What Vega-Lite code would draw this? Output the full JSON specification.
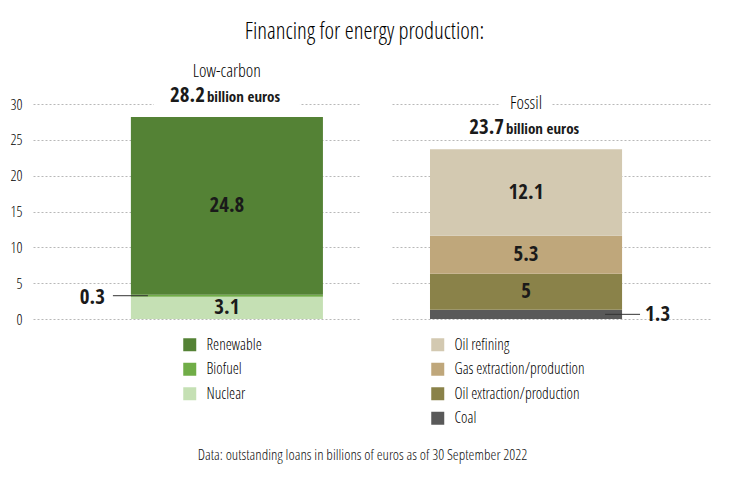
{
  "$schema": "https://vega.github.io/schema/vega-lite/v6.json",
  "background": "white",
  "padding": {"left": 5, "top": 20, "right": 5, "bottom": 5},
  "title": {"text": "Financing for energy production:", "font": "Open Sans Condensed Light", "fontSize": 23, "fontWeight": 300, "color": "#000000", "anchor": "middle", "offset": 19, "dx": 6},
  "datasets": {
    "loans": [
      {"group": "Low-carbon", "category": "Nuclear", "value": 3.1, "order": 1},
      {"group": "Low-carbon", "category": "Biofuel", "value": 0.3, "order": 2},
      {"group": "Low-carbon", "category": "Renewable", "value": 24.8, "order": 3},
      {"group": "Fossil", "category": "Coal", "value": 1.3, "order": 1},
      {"group": "Fossil", "category": "Oil extraction/production", "value": 5, "order": 2},
      {"group": "Fossil", "category": "Gas extraction/production", "value": 5.3, "order": 3},
      {"group": "Fossil", "category": "Oil refining", "value": 12.1, "order": 4}
    ]
  },
  "vconcat": [
    {
      "title": {"text": "Data: outstanding loans in billions of euros as of 30 September 2022", "font": "Open Sans Condensed Light", "orient": "bottom", "fontSize": 15, "fontWeight": 300, "color": "#111111", "offset": 21, "anchor": "middle", "dx": 4},
      "bounds": "flush",
      "spacing": 31,
      "resolve": {"scale": {"color": "independent", "x": "independent", "y": "independent"}, "legend": {"color": "independent"}},
      "hconcat": [
        {
          "width": 328,
          "height": 215,
          "data": {"name": "loans"},
          "transform": [
            {"filter": "datum.group === 'Low-carbon'"},
            {"stack": "value", "groupby": ["group"], "sort": [{"field": "order", "order": "ascending"}], "as": ["v0", "v1"]},
            {"calculate": "(datum.v0 + datum.v1) / 2", "as": "mid"}
          ],
          "layer": [
            {
              "mark": {"type": "bar"},
              "encoding": {
                "x": {"field": "group", "type": "nominal", "axis": null, "scale": {"type": "band", "paddingInner": 0, "paddingOuter": 0.354, "align": 0.72}},
                "y": {"field": "v0", "type": "quantitative", "scale": {"domain": [0, 30], "nice": false},
                  "axis": {"values": [0, 5, 10, 15, 20, 25, 30], "grid": true, "gridDash": [2, 2], "gridColor": "#b8b8b8", "gridWidth": 1, "domain": false, "ticks": false, "labelFont": "Open Sans Condensed Light", "labelFontSize": 15, "labelColor": "#000000", "labelPadding": 11, "title": null, "minExtent": 28, "maxExtent": 28}},
                "y2": {"field": "v1"},
                "color": {"field": "category", "type": "nominal",
                  "scale": {"domain": ["Renewable", "Biofuel", "Nuclear"], "range": ["#548235", "#70ad47", "#c5e0b4"]},
                  "legend": {"orient": "none", "legendX": 149, "legendY": 233, "title": null, "symbolType": "square", "symbolSize": 169, "symbolStrokeWidth": 0, "labelFont": "Open Sans Condensed Light", "labelFontSize": 15.5, "labelColor": "#000000", "labelOffset": 9, "rowPadding": 7.5, "padding": 0}}
              }
            },
            {
              "transform": [{"filter": "datum.value >= 1"}],
              "mark": {"type": "text", "fontSize": 21, "fontWeight": "bold", "color": "#1a1a1a", "baseline": "middle"},
              "encoding": {
                "x": {"field": "group", "type": "nominal", "bandPosition": 0.5},
                "y": {"field": "mid", "type": "quantitative",
                  "axis": {"values": [0, 5, 10, 15, 20, 25, 30], "grid": true, "gridDash": [2, 2], "gridColor": "#b8b8b8", "gridWidth": 1, "domain": false, "ticks": false, "labelFont": "Open Sans Condensed Light", "labelFontSize": 15, "labelColor": "#000000", "labelPadding": 11, "title": null, "minExtent": 28, "maxExtent": 28}},
                "text": {"field": "value", "type": "quantitative", "format": ".1~f"}
              }
            },
            {
              "transform": [{"filter": "datum.value < 1"}],
              "mark": {"type": "text", "fontSize": 21, "fontWeight": "bold", "color": "#1a1a1a", "baseline": "middle", "align": "right", "dx": -122, "dy": 2},
              "encoding": {
                "x": {"field": "group", "type": "nominal", "bandPosition": 0.5},
                "y": {"field": "mid", "type": "quantitative",
                  "axis": {"values": [0, 5, 10, 15, 20, 25, 30], "grid": true, "gridDash": [2, 2], "gridColor": "#b8b8b8", "gridWidth": 1, "domain": false, "ticks": false, "labelFont": "Open Sans Condensed Light", "labelFontSize": 15, "labelColor": "#000000", "labelPadding": 11, "title": null, "minExtent": 28, "maxExtent": 28}},
                "text": {"field": "value", "type": "quantitative", "format": ".1~f"}
              }
            },
            {
              "transform": [{"filter": "datum.value < 1"}],
              "mark": {"type": "rule", "color": "#333333", "strokeWidth": 1, "xOffset": -114, "x2Offset": -79},
              "encoding": {
                "x": {"field": "group", "type": "nominal", "bandPosition": 0.5},
                "x2": {"field": "group", "bandPosition": 0.5},
                "y": {"field": "mid", "type": "quantitative",
                  "axis": {"values": [0, 5, 10, 15, 20, 25, 30], "grid": true, "gridDash": [2, 2], "gridColor": "#b8b8b8", "gridWidth": 1, "domain": false, "ticks": false, "labelFont": "Open Sans Condensed Light", "labelFontSize": 15, "labelColor": "#000000", "labelPadding": 11, "title": null, "minExtent": 28, "maxExtent": 28}}
              }
            },
            {
              "transform": [{"aggregate": [{"op": "sum", "field": "value", "as": "total"}], "groupby": ["group"]}],
              "encoding": {
                "x": {"field": "group", "type": "nominal", "bandPosition": 0.5},
                "y": {"field": "total", "type": "quantitative",
                  "axis": {"values": [0, 5, 10, 15, 20, 25, 30], "grid": true, "gridDash": [2, 2], "gridColor": "#b8b8b8", "gridWidth": 1, "domain": false, "ticks": false, "labelFont": "Open Sans Condensed Light", "labelFontSize": 15, "labelColor": "#000000", "labelPadding": 11, "title": null, "minExtent": 28, "maxExtent": 28}}
              },
              "layer": [
                {"mark": {"type": "bar", "color": "white", "width": 146, "yOffset": -31, "y2Offset": -8},
                 "encoding": {"y2": {"field": "total"}}},
                {"mark": {"type": "text", "font": "Open Sans Condensed Light", "fontSize": 18, "baseline": "middle", "dy": -45, "color": "#000000"},
                 "encoding": {"text": {"field": "group", "type": "nominal"}}},
                {"mark": {"type": "text", "fontSize": 21, "fontWeight": "bold", "baseline": "middle", "align": "right", "dx": -22, "dy": -21, "color": "#1a1a1a"},
                 "encoding": {"text": {"field": "total", "type": "quantitative", "format": ".1f"}}},
                {"mark": {"type": "text", "fontSize": 15, "fontWeight": "bold", "baseline": "middle", "align": "left", "dx": -20, "dy": -20, "color": "#1a1a1a"},
                 "encoding": {"text": {"value": "billion euros"}}}
              ]
            }
          ]
        },
        {
          "width": 320,
          "height": 215,
          "data": {"name": "loans"},
          "transform": [
            {"filter": "datum.group === 'Fossil'"},
            {"stack": "value", "groupby": ["group"], "sort": [{"field": "order", "order": "ascending"}], "as": ["v0", "v1"]},
            {"calculate": "(datum.v0 + datum.v1) / 2", "as": "mid"}
          ],
          "layer": [
            {
              "mark": {"type": "bar"},
              "encoding": {
                "x": {"field": "group", "type": "nominal", "axis": null, "scale": {"type": "band", "paddingInner": 0, "paddingOuter": 0.333, "align": 0.297}},
                "y": {"field": "v0", "type": "quantitative", "scale": {"domain": [0, 30], "nice": false},
                  "axis": {"values": [0, 5, 10, 15, 20, 25, 30], "grid": true, "gridDash": [2, 2], "gridColor": "#b8b8b8", "gridWidth": 1, "domain": false, "ticks": false, "labels": false, "title": null, "minExtent": 0, "maxExtent": 0}},
                "y2": {"field": "v1"},
                "color": {"field": "category", "type": "nominal",
                  "scale": {"domain": ["Oil refining", "Gas extraction/production", "Oil extraction/production", "Coal"], "range": ["#d3c9b1", "#bfa77b", "#8a8249", "#595959"]},
                  "legend": {"orient": "none", "legendX": 38, "legendY": 233, "title": null, "symbolType": "square", "symbolSize": 169, "symbolStrokeWidth": 0, "labelFont": "Open Sans Condensed Light", "labelFontSize": 15.5, "labelColor": "#000000", "labelOffset": 9, "rowPadding": 7.5, "padding": 0}}
              }
            },
            {
              "transform": [{"filter": "datum.value >= 2"}],
              "mark": {"type": "text", "fontSize": 21, "fontWeight": "bold", "color": "#1a1a1a", "baseline": "middle"},
              "encoding": {
                "x": {"field": "group", "type": "nominal", "bandPosition": 0.5},
                "y": {"field": "mid", "type": "quantitative",
                  "axis": {"values": [0, 5, 10, 15, 20, 25, 30], "grid": true, "gridDash": [2, 2], "gridColor": "#b8b8b8", "gridWidth": 1, "domain": false, "ticks": false, "labels": false, "title": null, "minExtent": 0, "maxExtent": 0}},
                "text": {"field": "value", "type": "quantitative", "format": ".1~f"}
              }
            },
            {
              "transform": [{"filter": "datum.value < 2"}],
              "mark": {"type": "text", "fontSize": 21, "fontWeight": "bold", "color": "#1a1a1a", "baseline": "middle", "align": "left", "dx": 119, "dy": 1},
              "encoding": {
                "x": {"field": "group", "type": "nominal", "bandPosition": 0.5},
                "y": {"field": "mid", "type": "quantitative",
                  "axis": {"values": [0, 5, 10, 15, 20, 25, 30], "grid": true, "gridDash": [2, 2], "gridColor": "#b8b8b8", "gridWidth": 1, "domain": false, "ticks": false, "labels": false, "title": null, "minExtent": 0, "maxExtent": 0}},
                "text": {"field": "value", "type": "quantitative", "format": ".1~f"}
              }
            },
            {
              "transform": [{"filter": "datum.value < 2"}],
              "mark": {"type": "rule", "color": "#333333", "strokeWidth": 1, "xOffset": 79, "x2Offset": 114},
              "encoding": {
                "x": {"field": "group", "type": "nominal", "bandPosition": 0.5},
                "x2": {"field": "group", "bandPosition": 0.5},
                "y": {"field": "mid", "type": "quantitative",
                  "axis": {"values": [0, 5, 10, 15, 20, 25, 30], "grid": true, "gridDash": [2, 2], "gridColor": "#b8b8b8", "gridWidth": 1, "domain": false, "ticks": false, "labels": false, "title": null, "minExtent": 0, "maxExtent": 0}}
              }
            },
            {
              "transform": [{"aggregate": [{"op": "sum", "field": "value", "as": "total"}], "groupby": ["group"]}],
              "encoding": {
                "x": {"field": "group", "type": "nominal", "bandPosition": 0.5},
                "y": {"field": "total", "type": "quantitative",
                  "axis": {"values": [0, 5, 10, 15, 20, 25, 30], "grid": true, "gridDash": [2, 2], "gridColor": "#b8b8b8", "gridWidth": 1, "domain": false, "ticks": false, "labels": false, "title": null, "minExtent": 0, "maxExtent": 0}}
              },
              "layer": [
                {"mark": {"type": "bar", "color": "white", "width": 52, "yOffset": -52, "y2Offset": -38},
                 "encoding": {"y2": {"field": "total"}}},
                {"mark": {"type": "text", "font": "Open Sans Condensed Light", "fontSize": 18, "baseline": "middle", "dy": -45, "color": "#000000"},
                 "encoding": {"text": {"field": "group", "type": "nominal"}}},
                {"mark": {"type": "text", "fontSize": 21, "fontWeight": "bold", "baseline": "middle", "align": "right", "dx": -22, "dy": -21, "color": "#1a1a1a"},
                 "encoding": {"text": {"field": "total", "type": "quantitative", "format": ".1f"}}},
                {"mark": {"type": "text", "fontSize": 15, "fontWeight": "bold", "baseline": "middle", "align": "left", "dx": -20, "dy": -20, "color": "#1a1a1a"},
                 "encoding": {"text": {"value": "billion euros"}}}
              ]
            }
          ]
        }
      ]
    }
  ],
  "config": {
    "font": "Open Sans Condensed",
    "view": {"stroke": null}
  }
}
